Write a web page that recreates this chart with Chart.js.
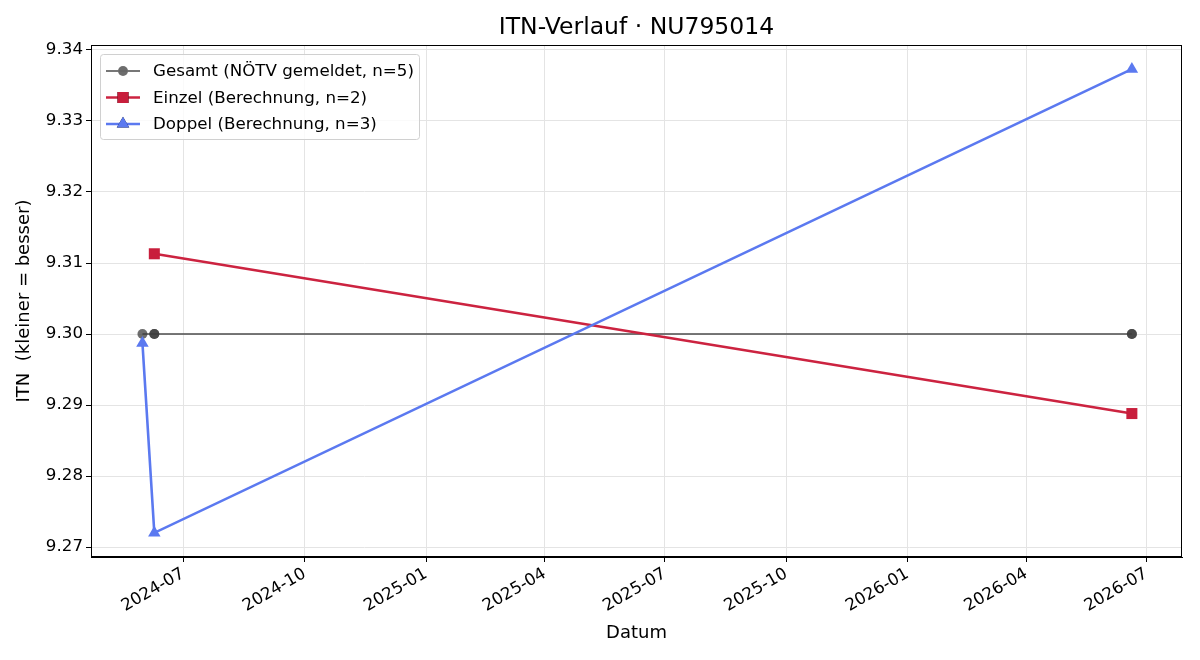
<!DOCTYPE html>
<html>
<head>
<meta charset="utf-8">
<script src="https://cdn.jsdelivr.net/npm/chart.js@4.4.1/dist/chart.umd.min.js"></script>
<style>
  html, body { margin: 0; padding: 0; background: #fff; }
</style>
</head>
<body>
<canvas id="myChart" width="1200" height="660"></canvas>
<script>
// values
const gesamtDates = ['2024-05-31', '2024-06-09', '2024-06-09', '2026-06-20', '2026-06-20'];
const gesamtValues = [9.300, 9.300, 9.300, 9.300, 9.300];
const einzelDates = ['2024-06-09', '2026-06-20'];
const einzelValues = [9.3113, 9.2888];
const doppelDates = ['2024-05-31', '2024-06-09', '2026-06-20'];
const doppelValues = [9.2987, 9.2720, 9.3373];
const xTickLabels = ['2024-07', '2024-10', '2025-01', '2025-04', '2025-07', '2025-10', '2026-01', '2026-04', '2026-07'];
const yTickValues = [9.27, 9.28, 9.29, 9.30, 9.31, 9.32, 9.33, 9.34];
const chartTitle = 'ITN-Verlauf · NU795014';

const toMs = s => Date.parse(s.length === 7 ? s + '-01T00:00:00Z' : s + 'T00:00:00Z');
const pts = (dates, vals) => dates.map((d, i) => ({ x: toMs(d), y: vals[i] }));

const FONT = 'DejaVu Sans';
Chart.defaults.font.family = FONT;
Chart.defaults.color = '#000';

const ctx = document.getElementById('myChart');

// frame, title over the plot area and the legend inside it
const frameAndLegend = {
  id: 'frameAndLegend',
  afterDatasetsDraw(chart) {
    const c = chart.ctx;
    const a = chart.chartArea;
    c.save();
    c.strokeStyle = '#000';
    c.lineWidth = 1;
    c.strokeRect(Math.round(a.left) + 0.5, Math.round(a.top) + 0.5,
      Math.round(a.right - a.left) - 1, Math.round(a.bottom - a.top) - 1);

    c.fillStyle = '#000';
    c.font = '23.5px "' + FONT + '"';
    c.textAlign = 'center';
    c.textBaseline = 'middle';
    c.fillText(chartTitle, (a.left + a.right) / 2, 28);

    const bx = a.left + 9, by = a.top + 9, bw = 319, bh = 85;
    c.fillStyle = 'rgba(255,255,255,0.8)';
    c.strokeStyle = '#d0d0d0';
    c.beginPath();
    c.roundRect(bx + 0.5, by + 0.5, bw, bh, 3);
    c.fill();
    c.stroke();
    c.font = '16.7px "' + FONT + '"';
    c.textAlign = 'left';
    chart.data.datasets.forEach((ds, i) => {
      const y = by + 17 + i * 26.5;
      c.strokeStyle = ds.borderColor;
      c.lineWidth = ds.borderWidth;
      c.beginPath();
      c.moveTo(bx + 6, y);
      c.lineTo(bx + 40, y);
      c.stroke();
      Chart.helpers.drawPoint(c, {
        pointStyle: ds.pointStyle,
        radius: ds.pointRadius,
        borderWidth: 0
      }, bx + 23, y);
      c.fillStyle = ds.pointBackgroundColor;
      c.fill();
      c.fillStyle = '#000';
      c.fillText(ds.label, bx + 53, y + 1);
    });
    c.restore();
  }
};

new Chart(ctx, {
  type: 'line',
  data: {
    datasets: [
      {
        label: 'Gesamt (NÖTV gemeldet, n=5)',
        data: pts(gesamtDates, gesamtValues),
        borderColor: 'rgba(85,85,85,0.8)',
        pointBackgroundColor: 'rgba(60,60,60,0.75)',
        pointBorderWidth: 0,
        borderWidth: 2.2,
        pointStyle: 'circle',
        pointRadius: 5,
        order: 3
      },
      {
        label: 'Einzel (Berechnung, n=2)',
        data: pts(einzelDates, einzelValues),
        borderColor: '#cc2340',
        pointBackgroundColor: '#c81e3c',
        pointBorderWidth: 0,
        borderWidth: 2.6,
        pointStyle: 'rect',
        pointRadius: 7.8,
        order: 2
      },
      {
        label: 'Doppel (Berechnung, n=3)',
        data: pts(doppelDates, doppelValues),
        borderColor: '#5b79f0',
        pointBackgroundColor: '#5b79f0',
        pointBorderWidth: 0,
        borderWidth: 2.6,
        pointStyle: 'triangle',
        pointRadius: 7.2,
        order: 1
      }
    ]
  },
  options: {
    responsive: false,
    animation: false,
    devicePixelRatio: 1,
    layout: { padding: { left: 0, right: 18, top: 45, bottom: 0 } },
    plugins: {
      legend: { display: false },
      tooltip: { enabled: false },
      title: { display: false }
    },
    scales: {
      x: {
        type: 'linear',
        min: toMs('2024-04-22'),
        max: toMs('2026-07-28'),
        afterBuildTicks: s => { s.ticks = xTickLabels.map(t => ({ value: toMs(t) })); },
        afterFit: s => { s.height = 103; },
        ticks: {
          callback: v => { const d = new Date(v); return d.getUTCFullYear() + '-' + String(d.getUTCMonth() + 1).padStart(2, '0'); },
          minRotation: 30,
          maxRotation: 30,
          autoSkip: false,
          padding: 2,
          font: { size: 16.7 },
          color: '#000'
        },
        grid: { color: '#e4e4e4', tickColor: '#000', tickLength: 5, lineWidth: 1 },
        border: { display: true, color: '#000' },
        title: {
          display: true,
          text: 'Datum',
          font: { size: 18 },
          color: '#000',
          padding: { top: 0, bottom: 16 }
        }
      },
      y: {
        min: 9.2686,
        max: 9.3407,
        afterBuildTicks: s => { s.ticks = yTickValues.map(v => ({ value: v })); },
        afterFit: s => { s.width = 91; },
        ticks: {
          callback: v => v.toFixed(2),
          padding: 3,
          font: { size: 16.7 },
          color: '#000'
        },
        grid: { color: '#e4e4e4', tickColor: '#000', tickLength: 5, lineWidth: 1 },
        border: { display: true, color: '#000' },
        title: {
          display: true,
          text: 'ITN  (kleiner = besser)',
          font: { size: 18 },
          color: '#000',
          padding: { top: 14, bottom: 0 }
        }
      }
    }
  },
  plugins: [frameAndLegend]
});
</script>
</body>
</html>
